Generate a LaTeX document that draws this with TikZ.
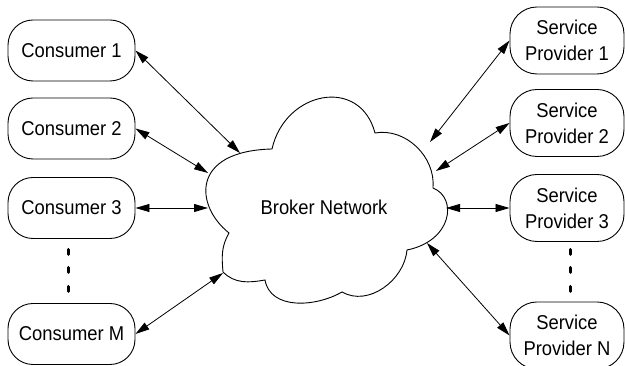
\documentclass[tikz,border=0pt]{standalone}
\usepackage{fontspec}
\setmainfont{Liberation Sans}[FakeStretch=0.92]
\usetikzlibrary{arrows.meta}

\tikzset{
    >={Triangle[length=14pt,width=8pt]},
    box/.style={draw, line width=0.9pt, rounded corners=25pt,
        minimum width=127pt, minimum height=61pt, inner sep=0pt,
        align=center, font=\fontsize{20}{26}\selectfont},
    provider/.style={box, rounded corners=27pt, minimum width=114pt, minimum height=67pt},
    link/.style={<->, line width=0.8pt},
    vdots/.style={line width=3pt, line cap=round},
}

\begin{document}
\begin{tikzpicture}[x=1pt,y=1pt]
    \useasboundingbox (0,0) rectangle (625,366);

    % Consumers
    \node[box] (c1) at (71.5,315.5) {Consumer 1};
    \node[box] (c2) at (71.5,237.5) {Consumer 2};
    \node[box] (c3) at (71.5,158) {Consumer 3};
    \node[box] (cm) at (71.5,32) {Consumer M};

    % Service providers
    \node[provider] (p1) at (567,325.5) {Service\\Provider 1};
    \node[provider] (p2) at (567,243) {Service\\Provider 2};
    \node[provider] (p3) at (567,158) {Service\\Provider 3};
    \node[provider] (pn) at (567,30.5) {Service\\Provider N};

    % Dots between the last two of each column
    \foreach \y in {114,96,77} {
        \draw[vdots] (68,\y+2.5) -- (68,\y-2.5);
        \draw[vdots] (570,\y+2.5) -- (570,\y-2.5);
    }

    % Broker network cloud
    \draw[line width=0.9pt] (272,217)
        .. controls (285,275) and (360,290) .. (375,233)
        to[out=10,in=85] (433,178)
        .. controls (458,168) and (452,125) .. (407,116)
        to[out=-95,in=-30] (342,74)
        to[out=-150,in=-80] (265,86)
        to[out=190,in=-45] (223,94)
        to[out=95,in=-120] (229,133)
        .. controls (195,160) and (190,215) .. cycle;
    \node[font=\fontsize{20}{26}\selectfont] (net) at (324,158.5) {Broker Network};

    % Points where the links meet the cloud
    \coordinate (n1) at (240,213);
    \coordinate (n2) at (208,193);
    \coordinate (n3) at (208,158);
    \coordinate (nm) at (223,93);
    \coordinate (q1) at (430,224);
    \coordinate (q2) at (436,195);
    \coordinate (q3) at (446,158);
    \coordinate (qn) at (427,123);

    % Links
    \draw[link] (c1.east) -- (n1);
    \draw[link] (c2.east) -- (n2);
    \draw[link] (c3.east) -- (n3);
    \draw[link] (cm.east) -- (nm);
    \draw[link] (p1.west) -- (q1);
    \draw[link] (p2.west) -- (q2);
    \draw[link] (p3.west) -- (q3);
    \draw[link] (pn.west) -- (qn);
\end{tikzpicture}
\end{document}
